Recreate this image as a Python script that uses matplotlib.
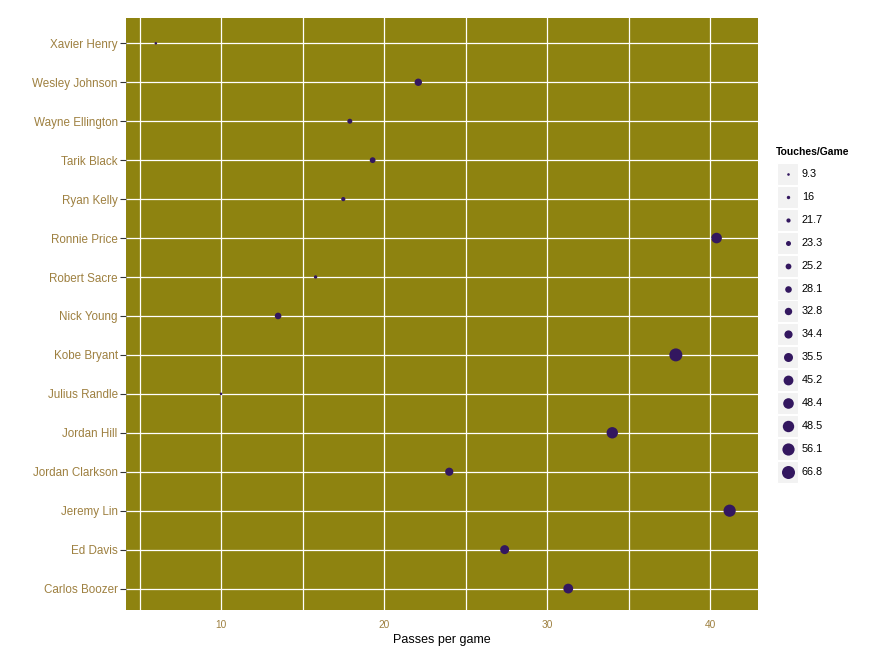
import numpy as np
import matplotlib
matplotlib.use("Agg")
import matplotlib.pyplot as plt
from matplotlib.patches import Rectangle

plt.rcParams['font.family'] = ['Liberation Sans', 'DejaVu Sans']

players = ["Carlos Boozer", "Ed Davis", "Jeremy Lin", "Jordan Clarkson", "Jordan Hill",
           "Julius Randle", "Kobe Bryant", "Nick Young", "Robert Sacre", "Ronnie Price",
           "Ryan Kelly", "Tarik Black", "Wayne Ellington", "Wesley Johnson", "Xavier Henry"]
passes = [31.3, 27.4, 41.2, 24.0, 34.0, 10.0, 37.9, 13.5, 15.8, 40.4,
          17.5, 19.3, 17.9, 22.1, 6.0]
touches = ["45.2", "35.5", "56.1", "34.4", "48.5", "9.3", "66.8", "28.1", "16", "48.4",
           "21.7", "25.2", "23.3", "32.8", "9.3"]
levels = ["9.3", "16", "21.7", "23.3", "25.2", "28.1", "32.8", "34.4", "35.5",
          "45.2", "48.4", "48.5", "56.1", "66.8"]

panel = '#8E8310'
pt_col = '#33175F'
lab_col = '#9E8040'

# ordinal size scale: diameter grows with level index (pixels -> points^2)
def size_of(lv):
    i = levels.index(lv)
    d_px = 2.6 + 10.4 * i / (len(levels) - 1)
    return (d_px * 0.72) ** 2

fig = plt.figure(figsize=(8.85, 6.56), dpi=100)
ax = fig.add_axes([126/885, 1-610/656, (758-126)/885, (610-18)/656])
ax.set_facecolor(panel)

y = np.arange(len(players))
ax.scatter(passes, y, s=[size_of(t) for t in touches], color=pt_col, zorder=3, linewidths=0)

ax.set_xlim(4.17, 42.94)
ax.set_ylim(-0.55, len(players) - 0.35)
ax.set_xticks([10, 20, 30, 40])
ax.set_xticks([5, 15, 25, 35], minor=True)
ax.set_yticks(y)
ax.set_yticklabels(players)
ax.grid(True, which='both', color='white', lw=0.9)
ax.set_axisbelow(True)
for s in ax.spines.values():
    s.set_visible(False)
ax.tick_params(axis='y', length=4, color='#333333', labelsize=8.4, labelcolor=lab_col, pad=2)
ax.tick_params(axis='x', which='both', length=0, labelsize=7.3, labelcolor=lab_col, pad=7)
ax.set_xlabel("Passes per game", fontsize=9, color='black', labelpad=3)

# legend drawn in pixel coordinates
lax = fig.add_axes([770/885, 1-490/656, 100/885, 350/656])
lax.set_xlim(770, 870)
lax.set_ylim(490, 140)
lax.axis('off')
lax.text(776, 152, "Touches/Game", fontsize=7.5, fontweight='bold', va='center', ha='left')
for i, lv in enumerate(levels):
    cy = 174 + i * 22.9
    lax.add_patch(Rectangle((777, cy - 11), 21, 22, facecolor='#F2F2F2', edgecolor='white', lw=0.8))
    lax.scatter([787.5], [cy], s=size_of(lv), color=pt_col, linewidths=0, zorder=3)
    lax.text(802, cy, lv, fontsize=7.8, va='center', ha='left')

fig.savefig("out.png", dpi=100)
